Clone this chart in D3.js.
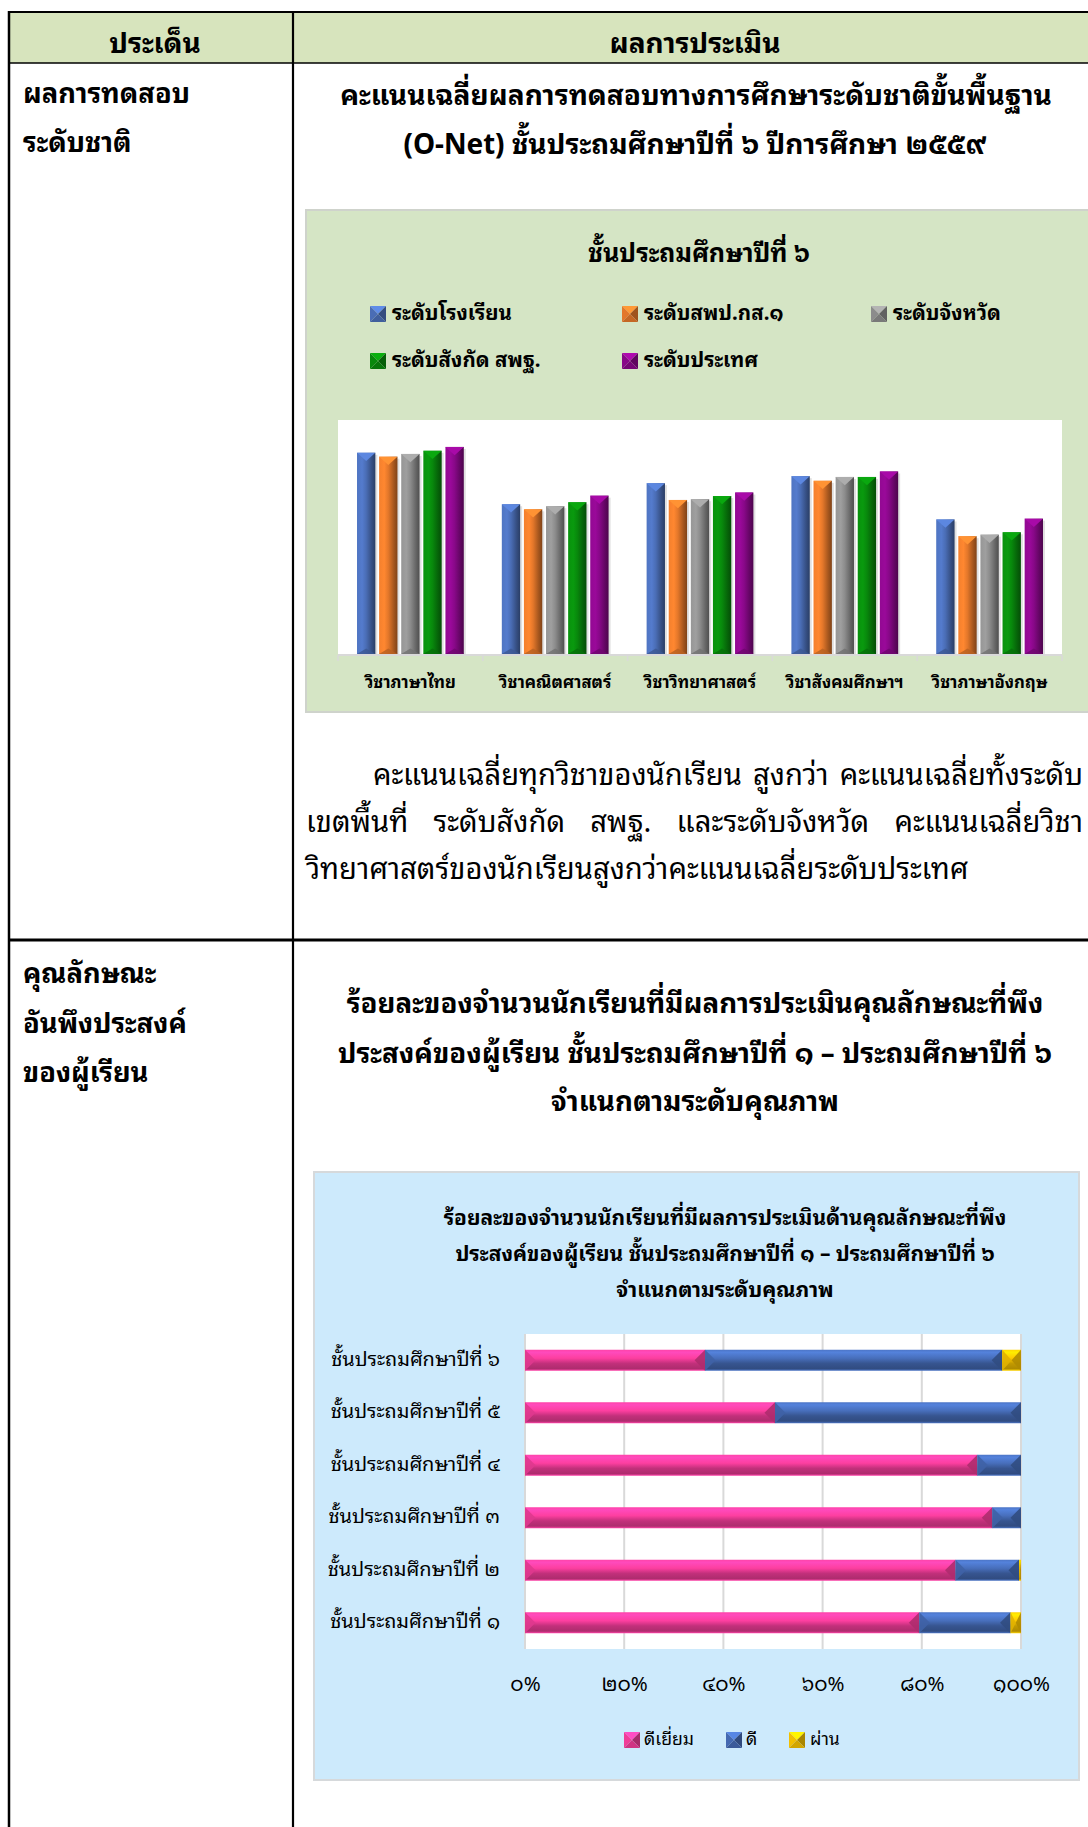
<!DOCTYPE html>
<html><head><meta charset="utf-8">
<script src="https://cdn.jsdelivr.net/npm/d3@7"></script>
<style>html,body{margin:0;padding:0;background:#fff;} svg{display:block}</style>
</head><body><svg id="c" width="1088" height="1827"></svg>
<script>
// ---------- DATA ----------
const subjects = ["วิชาภาษาไทย","วิชาคณิตศาสตร์","วิชาวิทยาศาสตร์","วิชาสังคมศึกษาฯ","วิชาภาษาอังกฤษ"];
const levels = ["ระดับโรงเรียน","ระดับสพป.กส.๑","ระดับจังหวัด","ระดับสังกัด สพฐ.","ระดับประเทศ"];
const schoolScores   = [51.6, 38.4, 43.8, 45.6, 34.5];
const areaScores     = [50.6, 37.1, 39.5, 44.4, 30.2];
const provinceScores = [51.3, 37.9, 39.7, 45.4, 30.6];
const obecScores     = [52.1, 38.9, 40.5, 45.4, 31.2];
const nationalScores = [53.1, 40.6, 41.4, 46.8, 34.7];

const grades = ["ชั้นประถมศึกษาปีที่ ๖","ชั้นประถมศึกษาปีที่ ๕","ชั้นประถมศึกษาปีที่ ๔","ชั้นประถมศึกษาปีที่ ๓","ชั้นประถมศึกษาปีที่ ๒","ชั้นประถมศึกษาปีที่ ๑"];
const qualityLevels = ["ดีเยี่ยม","ดี","ผ่าน"];
const excellentPct = [36.3, 50.4, 91.2, 94.2, 86.8, 79.5];
const goodPct      = [59.9, 49.6,  8.8,  5.8, 12.8, 18.4];
const passPct      = [ 3.8,  0.0,  0.0,  0.0,  0.4,  2.1];
const pctTicks = [0, 20, 40, 60, 80, 100];
const pctTickLabels = ["๐%","๒๐%","๔๐%","๖๐%","๘๐%","๑๐๐%"];

// ---------- SETUP ----------
const FONT = '"Noto Sans Thai Looped","Noto Sans Thai","Noto Sans Thai UI","Noto Sans","DejaVu Sans",sans-serif';
const DY = -3.5;
const svg = d3.select("#c");
const defs = svg.append("defs");

function fit(str, weight, target){
  const t = svg.append("text").attr("font-family",FONT).attr("font-weight",weight)
    .attr("font-size",100).text(str);
  const w = t.node().getComputedTextLength(); t.remove();
  return 100*target/w;
}
function txt(g, str, x, y, size, weight, anchor){
  return g.append("text").attr("x",x).attr("y",y+DY).attr("font-family",FONT)
    .attr("font-size",size).attr("font-weight",weight||"normal")
    .attr("text-anchor",anchor||"start").attr("dominant-baseline","central")
    .attr("fill","#000").text(str);
}

// ---------- TABLE ----------
const T = svg.append("g");
T.append("rect").attr("x",9).attr("y",12).attr("width",1100).attr("height",51).attr("fill","#d7e4bd");
const line = (x1,y1,x2,y2,w)=>T.append("line").attr("x1",x1).attr("y1",y1).attr("x2",x2).attr("y2",y2)
  .attr("stroke","#000").attr("stroke-width",w);

const hdrSize = fit("ผลการประเมิน","bold",171);
txt(T,"ประเด็น",155,44,hdrSize,"bold","middle");
txt(T,"ผลการประเมิน",695,44,hdrSize,"bold","middle");

const leftSize = fit("ผลการทดสอบ","bold",167);
txt(T,"ผลการทดสอบ",23,94,leftSize,"bold");
txt(T,"ระดับชาติ",23,143,leftSize,"bold");
txt(T,"คุณลักษณะ",23,974,leftSize,"bold");
txt(T,"อันพึงประสงค์",23,1024,leftSize,"bold");
txt(T,"ของผู้เรียน",23,1073,leftSize,"bold");

const t1Size = fit("คะแนนเฉลี่ยผลการทดสอบทางการศึกษาระดับชาติขั้นพื้นฐาน","bold",712);
txt(T,"คะแนนเฉลี่ยผลการทดสอบทางการศึกษาระดับชาติขั้นพื้นฐาน",696,96,t1Size,"bold","middle");
txt(T,"(O-Net) ชั้นประถมศึกษาปีที่ ๖ ปีการศึกษา ๒๕๕๙",695,145,t1Size,"bold","middle");

const t2Size = fit("ร้อยละของจำนวนนักเรียนที่มีผลการประเมินคุณลักษณะที่พึง","bold",697);
txt(T,"ร้อยละของจำนวนนักเรียนที่มีผลการประเมินคุณลักษณะที่พึง",695,1004,t2Size,"bold","middle");
txt(T,"ประสงค์ของผู้เรียน ชั้นประถมศึกษาปีที่ ๑ – ประถมศึกษาปีที่ ๖",695,1054,t2Size,"bold","middle");
txt(T,"จำแนกตามระดับคุณภาพ",695,1102,t2Size,"bold","middle");

// paragraph (justified by words)
const pSize = fit("คะแนนเฉลี่ยทุกวิชาของนักเรียน สูงกว่า คะแนนเฉลี่ยทั้งระดับ","normal",703);
function justify(words, x0, x1, y){
  const ws = words.map(w=>{ const t=txt(T,w,0,y,pSize,"normal"); const l=t.node().getComputedTextLength(); return {t,l}; });
  const total = d3.sum(ws,d=>d.l);
  const gap = (x1-x0-total)/(ws.length-1);
  let x = x0;
  ws.forEach(d=>{ d.t.attr("x",x); x += d.l+gap; });
}
justify(["คะแนนเฉลี่ยทุกวิชาของนักเรียน","สูงกว่า","คะแนนเฉลี่ยทั้งระดับ"],373,1083,775);
justify(["เขตพื้นที่","ระดับสังกัด","สพฐ.","และระดับจังหวัด","คะแนนเฉลี่ยวิชา"],306,1083,822);
txt(T,"วิทยาศาสตร์ของนักเรียนสูงกว่าคะแนนเฉลี่ยระดับประเทศ",306,869,pSize,"normal");

// ---------- gradients ----------
function vGrad(id, c){ // horizontal gradient for vertical bars
  c = d3.color(c);
  const g = defs.append("linearGradient").attr("id",id).attr("x1","0").attr("x2","1").attr("y1","0").attr("y2","0");
  [[0,c.brighter(0.2)],[0.28,c.brighter(0.35)],[0.5,c],[0.8,c.darker(0.9)],[1,c.darker(1.6)]]
    .forEach(([o,col])=>g.append("stop").attr("offset",o).attr("stop-color",col));
}
function hGrad(id, c){
  c = d3.color(c);
  const g = defs.append("linearGradient").attr("id",id).attr("x1","0").attr("x2","0").attr("y1","0").attr("y2","1");
  [[0,c.brighter(0.3)],[0.12,c.brighter(0.6)],[0.4,c.brighter(0.15)],[0.65,c.darker(0.6)],[0.9,c.darker(0.9)],[1,c.brighter(0.3)]]
    .forEach(([o,col])=>g.append("stop").attr("offset",o).attr("stop-color",col));
}
function pyramid(g, x, y, s, c){
  c = d3.color(c);
  const m=[x+s/2,y+s/2];
  g.append("polygon").attr("points",[[x,y],[x+s,y],m].join(" ")).attr("fill",c.brighter(0.7));
  g.append("polygon").attr("points",[[x,y],[x,y+s],m].join(" ")).attr("fill",c);
  g.append("polygon").attr("points",[[x+s,y],[x+s,y+s],m].join(" ")).attr("fill",c.darker(1));
  g.append("polygon").attr("points",[[x,y+s],[x+s,y+s],m].join(" ")).attr("fill",c.darker(0.4));
}

// ---------- CHART 1 ----------
const levelColors = ["#4a6db5","#e3772a","#8c8c8c","#08880c","#880888"];
levelColors.forEach((c,i)=>vGrad("gv"+i,c));
const C1 = svg.append("g");
C1.append("rect").attr("x",306).attr("y",210).attr("width",800).attr("height",502)
  .attr("fill","#d5e5c5").attr("stroke","#cfd3cc").attr("stroke-width",2);
C1.append("rect").attr("x",338).attr("y",420).attr("width",724).attr("height",234).attr("fill","#fff");
txt(C1,"ชั้นประถมศึกษาปีที่ ๖",699,254,fit("ชั้นประถมศึกษาปีที่ ๖","bold",222),"bold","middle");

const legSize = fit("ระดับโรงเรียน","bold",120);
const legPos = [[370,314],[622,314],[871,314],[370,361],[622,361]];
levels.forEach((l,i)=>{
  pyramid(C1, legPos[i][0], legPos[i][1]-8, 16, levelColors[i]);
  txt(C1, l, legPos[i][0]+22, legPos[i][1], legSize, "bold");
});

const series = [schoolScores, areaScores, provinceScores, obecScores, nationalScores];
const x0 = d3.scaleBand().domain(subjects).range([338,1062]);
const x1 = d3.scaleBand().domain(levels).range([0,x0.bandwidth()]).paddingInner(0.17).paddingOuter(0.86);
const y1 = d3.scaleLinear().domain([0,60]).range([654,420]);

const barData = [];
subjects.forEach((s,si)=>levels.forEach((l,li)=>barData.push({s,l,li,v:series[li][si]})));
const bars = C1.append("g").selectAll("g").data(barData).join("g");
bars.each(function(d){
  const g = d3.select(this);
  const x = x0(d.s)+x1(d.l), w = x1.bandwidth(), yt = y1(d.v), yb = y1(0);
  const c = d3.color(levelColors[d.li]);
  g.append("rect").attr("x",x+2).attr("y",yt+2).attr("width",w).attr("height",yb-yt-2).attr("fill","rgba(0,0,0,0.12)");
  g.append("rect").attr("x",x).attr("y",yt).attr("width",w).attr("height",yb-yt).attr("fill",`url(#gv${d.li})`);
  g.append("polygon").attr("points",[[x,yt],[x+w,yt],[x+w/2,yt+w*0.45]].join(" ")).attr("fill",c.brighter(0.6));
  g.append("polygon").attr("points",[[x,yb],[x+w,yb],[x+w/2,yb-w*0.3]].join(" ")).attr("fill",c.darker(0.6)).attr("opacity",0.8);
});
// baseline and ticks
C1.append("line").attr("x1",338).attr("x2",1062).attr("y1",655).attr("y2",655).attr("stroke","#d9d9d9").attr("stroke-width",2);
C1.append("g").selectAll("line").data(subjects.concat(["_end"])).join("line")
  .attr("x1",(d,i)=>x0.range()[0]+i*x0.step()).attr("x2",(d,i)=>x0.range()[0]+i*x0.step())
  .attr("y1",655).attr("y2",661).attr("stroke","#d9d9d9").attr("stroke-width",1.5);
const catSize = fit("วิชาภาษาไทย","bold",91);
const ax1 = C1.append("g").attr("transform",`translate(0,${684+DY})`)
  .call(d3.axisBottom(x0).tickSize(0).tickPadding(0));
ax1.select(".domain").remove();
ax1.selectAll("text").attr("font-family",FONT).attr("font-size",catSize).attr("font-weight","bold")
  .attr("fill","#000").attr("dy",null).attr("y",0).attr("dominant-baseline","central");

// ---------- CHART 2 ----------
const qColors = ["#f03c98","#4469b2","#f2bf00"];
qColors.forEach((c,i)=>hGrad("gh"+i,c));
const C2 = svg.append("g");
C2.append("rect").attr("x",314).attr("y",1172).attr("width",765).attr("height",608)
  .attr("fill","#cdeafc").attr("stroke","#d6d9db").attr("stroke-width",2);
const c2t = fit("ร้อยละของจำนวนนักเรียนที่มีผลการประเมินด้านคุณลักษณะที่พึง","bold",563);
txt(C2,"ร้อยละของจำนวนนักเรียนที่มีผลการประเมินด้านคุณลักษณะที่พึง",725,1219,c2t,"bold","middle");
txt(C2,"ประสงค์ของผู้เรียน ชั้นประถมศึกษาปีที่ ๑ – ประถมศึกษาปีที่ ๖",725,1255,c2t,"bold","middle");
txt(C2,"จำแนกตามระดับคุณภาพ",725,1291,c2t,"bold","middle");

const xs = d3.scaleLinear().domain([0,100]).range([525,1021]);
const ys = d3.scaleBand().domain(grades).range([1334,1649]).paddingInner(0.6).paddingOuter(0.3);
C2.append("rect").attr("x",525).attr("y",1334).attr("width",496).attr("height",315).attr("fill","#fff");
C2.append("g").selectAll("line").data(pctTicks).join("line")
  .attr("x1",d=>xs(d)).attr("x2",d=>xs(d)).attr("y1",1334).attr("y2",1649)
  .attr("stroke","#d9d9d9").attr("stroke-width",2);

const stackRows = grades.map((g,i)=>({g, v:[excellentPct[i],goodPct[i],passPct[i]]}));
stackRows.forEach(r=>{
  let acc = 0;
  r.v.forEach((v,k)=>{
    if(v<=0){return;}
    const xa = xs(acc), xb = xs(acc+v), y = ys(r.g), h = ys.bandwidth();
    const c = d3.color(qColors[k]);
    C2.append("rect").attr("x",xa).attr("y",y).attr("width",xb-xa).attr("height",h).attr("fill",`url(#gh${k})`);
    const tw = Math.min(h/2, (xb-xa)/2);
    C2.append("polygon").attr("points",[[xa,y],[xa,y+h],[xa+tw,y+h/2]].join(" ")).attr("fill",c.darker(0.2)).attr("opacity",0.9);
    C2.append("polygon").attr("points",[[xb,y],[xb,y+h],[xb-tw,y+h/2]].join(" ")).attr("fill",c.darker(0.9)).attr("opacity",0.9);
    acc += v;
  });
});

const gSize = fit("ชั้นประถมศึกษาปีที่ ๖","normal",169);
const ay = C2.append("g").attr("transform",`translate(500,${DY})`).call(d3.axisLeft(ys).tickSize(0).tickPadding(0));
ay.select(".domain").remove();
ay.selectAll("text").attr("font-family",FONT).attr("font-size",gSize).attr("fill","#000")
  .attr("dy",null).attr("x",0).attr("dominant-baseline","central");

const tSize = fit("๑๐๐%","normal",57);
const ax2 = C2.append("g").attr("transform",`translate(0,${1685+DY})`)
  .call(d3.axisBottom(xs).tickValues(pctTicks).tickFormat((d,i)=>pctTickLabels[i]).tickSize(0).tickPadding(0));
ax2.select(".domain").remove();
ax2.selectAll("text").attr("font-family",FONT).attr("font-size",tSize).attr("fill","#000")
  .attr("dy",null).attr("y",0).attr("dominant-baseline","central");

const q2Size = fit("ดีเยี่ยม","normal",50);
const leg2 = [[624,644],[726,746],[789,810]];
qualityLevels.forEach((q,i)=>{
  pyramid(C2, leg2[i][0], 1732, 16, qColors[i]);
  txt(C2, q, leg2[i][1], 1740, q2Size, "normal");
});

// ---------- TABLE LINES (on top) ----------
line(8,12,1088,12,2);
line(9,11,9,1827,2.5);
line(9,63,1088,63,1.6);
line(293,12,293,1827,2.2);
line(9,940,1088,940,3);
</script></body></html>
